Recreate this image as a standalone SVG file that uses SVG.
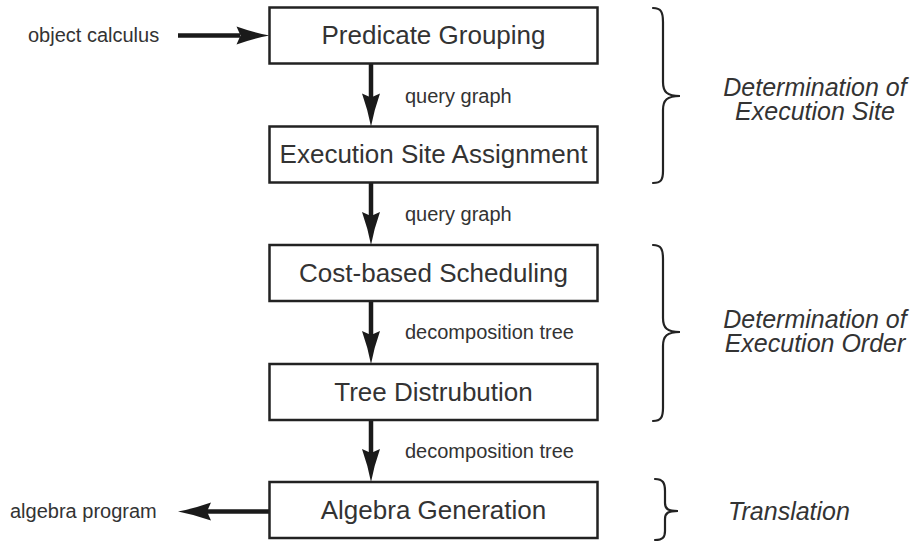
<svg xmlns="http://www.w3.org/2000/svg" width="915" height="542" viewBox="0 0 915 542">
  <style>
    .box { fill: #ffffff; stroke: #222222; stroke-width: 2.5; }
    .node-label { font-family: "Liberation Sans", Arial, sans-serif; font-size: 26px; fill: #333333; text-anchor: middle; }
    .edge-label { font-family: "Liberation Sans", Arial, sans-serif; font-size: 20px; fill: #333333; }
    .phase-label { font-family: "Liberation Sans", Arial, sans-serif; font-size: 25px; font-style: italic; fill: #333333; text-anchor: middle; }
    .shaft { stroke: #1a1a1a; stroke-width: 4.5; fill: none; }
    .head { fill: #1a1a1a; }
    .brace { stroke: #222222; stroke-width: 2.2; fill: none; stroke-linecap: round; }
  </style>
  <defs>
    <!-- arrowhead pointing down, tip at origin -->
    <path id="head-down" class="head" d="M0 0 Q-3 -16 -9 -33 L0 -29 L9 -33 Q3 -16 0 0 Z"/>
  </defs>

  <rect width="915" height="542" fill="#ffffff"/>

  <!-- connectors -->
  <g id="connectors">
    <!-- input into Predicate Grouping -->
    <line class="shaft" x1="178" y1="35.5" x2="240" y2="35.5"/>
    <use href="#head-down" transform="translate(269.5,35.5) rotate(-90)"/>

    <line class="shaft" x1="371" y1="63.5" x2="371" y2="98"/>
    <use href="#head-down" transform="translate(371,126.5)"/>

    <line class="shaft" x1="371" y1="182.5" x2="371" y2="217"/>
    <use href="#head-down" transform="translate(371,245)"/>

    <line class="shaft" x1="371" y1="301" x2="371" y2="336"/>
    <use href="#head-down" transform="translate(371,364)"/>

    <line class="shaft" x1="371" y1="420" x2="371" y2="454"/>
    <use href="#head-down" transform="translate(371,482)"/>

    <!-- output from Algebra Generation -->
    <line class="shaft" x1="269.5" y1="511.5" x2="207" y2="511.5"/>
    <use href="#head-down" transform="translate(178,511.5) rotate(90)"/>

    <text class="edge-label" x="28" y="42">object calculus</text>
    <text class="edge-label" x="405" y="103">query graph</text>
    <text class="edge-label" x="405" y="221">query graph</text>
    <text class="edge-label" x="405" y="339">decomposition tree</text>
    <text class="edge-label" x="405" y="458">decomposition tree</text>
    <text class="edge-label" x="10" y="518">algebra program</text>
  </g>

  <!-- processing steps -->
  <g id="predicate-grouping">
    <rect class="box" x="269.5" y="7.5" width="328" height="56"/>
    <text class="node-label" x="433.5" y="44">Predicate Grouping</text>
  </g>
  <g id="execution-site-assignment">
    <rect class="box" x="269.5" y="126.5" width="328" height="56"/>
    <text class="node-label" x="433.5" y="163">Execution Site Assignment</text>
  </g>
  <g id="cost-based-scheduling">
    <rect class="box" x="269.5" y="245" width="328" height="56"/>
    <text class="node-label" x="433.5" y="281.5">Cost-based Scheduling</text>
  </g>
  <g id="tree-distribution">
    <rect class="box" x="269.5" y="364" width="328" height="56"/>
    <text class="node-label" x="433.5" y="400.5">Tree Distrubution</text>
  </g>
  <g id="algebra-generation">
    <rect class="box" x="269.5" y="482" width="328" height="56"/>
    <text class="node-label" x="433.5" y="518.5">Algebra Generation</text>
  </g>

  <!-- phase braces -->
  <g id="phase-site">
    <path class="brace" d="M653 8 C661 8 663 12 663 22 L663 82 C663 92 667 96 680 96 C667 96 663 100 663 110 L663 171 C663 180 661 183 653 183"/>
    <text class="phase-label" x="815" y="96">Determination of</text>
    <text class="phase-label" x="815" y="120">Execution Site</text>
  </g>
  <g id="phase-order">
    <path class="brace" d="M653 245 C661 245 663 249 663 259 L663 318 C663 328 667 332 680 332 C667 332 663 336 663 346 L663 408 C663 417 661 421 653 421"/>
    <text class="phase-label" x="815" y="328">Determination of</text>
    <text class="phase-label" x="815" y="352">Execution Order</text>
  </g>
  <g id="phase-translation">
    <path class="brace" d="M655 479 C663 479 665 483 665 491 L665 503 C665 509 668 511 678 511 C668 511 665 513 665 519 L665 531 C665 537 663 540 655 540"/>
    <text class="phase-label" x="789" y="520">Translation</text>
  </g>
</svg>
